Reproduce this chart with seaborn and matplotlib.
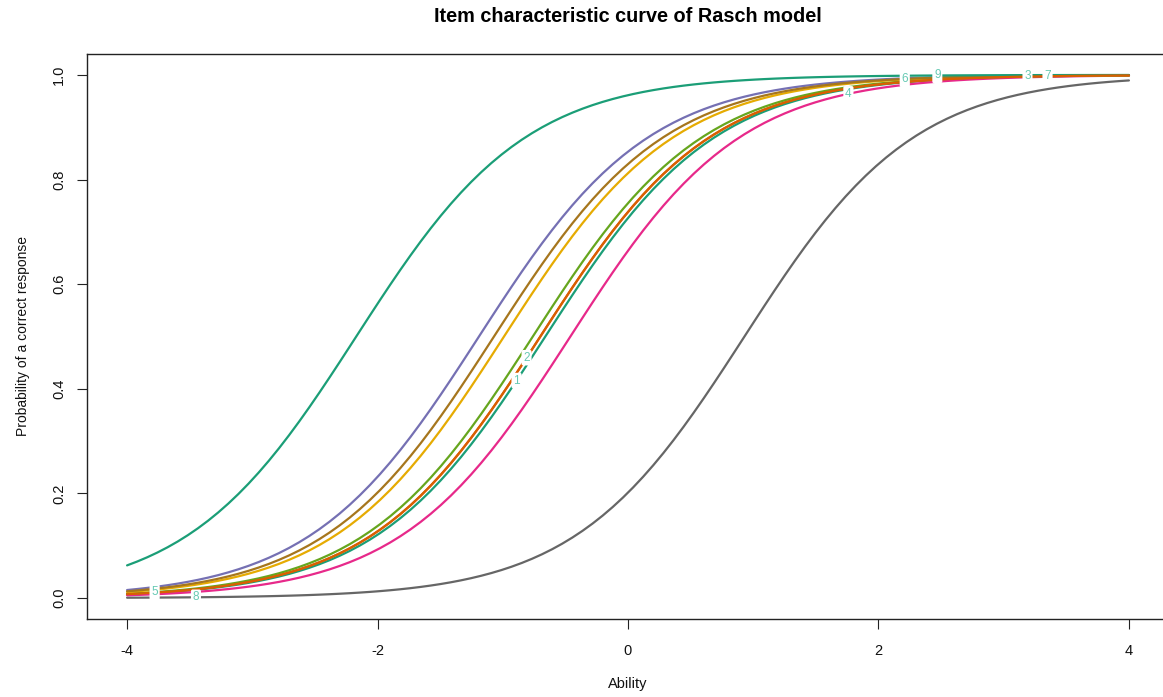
import numpy as np
import pandas as pd
import seaborn as sns
import matplotlib
matplotlib.use("Agg")
import matplotlib.pyplot as plt

# Rasch model estimates (common discrimination)
items = ["1", "2", "3", "4", "5", "6", "7", "8", "9", "10"]
difficulty = [-0.66, -0.70, -1.19, -0.46, -0.76, -0.99, -1.07, 0.93, -2.17, -0.70]
discrimination = 1.48
item_colors = ["#1B9E77", "#D95F02", "#7570B3", "#E7298A", "#66A61E",
               "#E6AB02", "#A6761D", "#666666", "#1B9E77", "#D95F02"]

# where the item numbers sit along their curves (ability value)
label_items = ["5", "8", "2", "1", "4", "6", "9", "3", "7"]
label_ability = [-3.78, -3.45, -0.81, -0.89, 1.76, 2.21, 2.47, 3.19, 3.35]

ability = np.linspace(-4, 4, 100)

rows = []
for item, b in zip(items, difficulty):
    p = 1 / (1 + np.exp(-discrimination * (ability - b)))
    rows.append(pd.DataFrame({"Ability": ability, "prob": p, "item": item}))
df = pd.concat(rows, ignore_index=True)

sns.set_style("white")
plt.rcParams["font.family"] = ["Liberation Sans", "DejaVu Sans"]
plt.rcParams["axes.unicode_minus"] = False

fig = plt.figure(figsize=(11.63, 6.97), dpi=100)
ax = fig.add_axes([87 / 1163, 1 - 619 / 697, (1169 - 87) / 1163, (619 - 54) / 697])

sns.lineplot(data=df, x="Ability", y="prob", hue="item", hue_order=items,
             palette=dict(zip(items, item_colors)), linewidth=1.6,
             legend=False, ax=ax)

for lab, xv in zip(label_items, label_ability):
    sub = df[df["item"] == lab]
    yv = np.interp(xv, sub["Ability"], sub["prob"])
    ax.text(xv, yv, lab, color="#66C9B3", fontsize=8.5, ha="center", va="center",
            bbox=dict(boxstyle="round,pad=0.15", fc="white", ec="none"), zorder=5)

ax.set_xlim(-4.32, 4.32)
ax.set_ylim(-0.04, 1.04)
ax.set_xticks([-4, -2, 0, 2, 4])
ax.set_yticks([0.0, 0.2, 0.4, 0.6, 0.8, 1.0])
ax.set_yticklabels(["0.0", "0.2", "0.4", "0.6", "0.8", "1.0"], rotation=90, va="center")
ax.tick_params(axis="both", direction="out", length=7, width=0.8, colors="#222222",
               labelsize=10.5, labelcolor="#111111", left=True, bottom=True)
ax.tick_params(axis="x", pad=11)
ax.tick_params(axis="y", pad=8)
for side in ["left", "top", "right", "bottom"]:
    ax.spines[side].set_visible(True)
    ax.spines[side].set_color("#222222")
    ax.spines[side].set_linewidth(1.0)

ax.set_xlabel("Ability", fontsize=10.5, labelpad=14, color="#111111")
ax.set_ylabel("Probability of a correct response", fontsize=10, labelpad=16, color="#111111")
fig.text(628 / 1163, 1 - 17 / 697, "Item characteristic curve of Rasch model",
         ha="center", va="center", fontsize=14.3, fontweight="bold", color="black")

fig.savefig("out.png", dpi=100)
